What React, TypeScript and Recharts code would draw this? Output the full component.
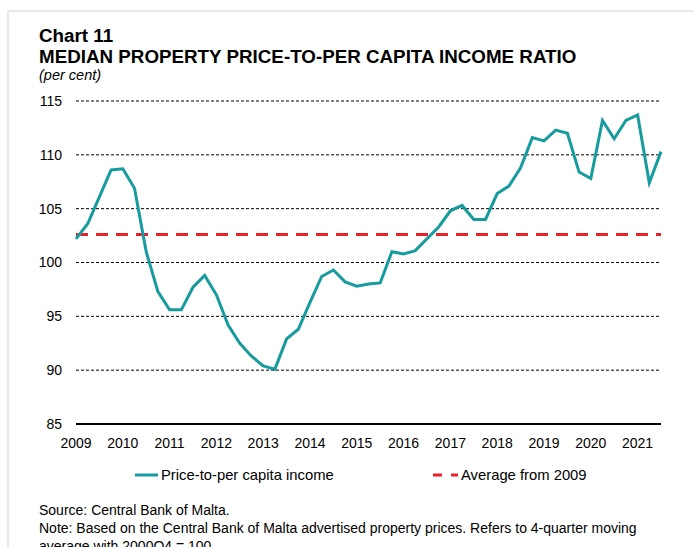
import React from 'react';
import { LineChart, Line, XAxis, YAxis, CartesianGrid, ReferenceLine } from 'recharts';

const years = ['2009', '2010', '2011', '2012', '2013', '2014', '2015', '2016', '2017', '2018', '2019', '2020', '2021'];
const quarterNames = ['Q1', 'Q2', 'Q3', 'Q4'];
const quarters: string[] = years.flatMap((y) => quarterNames.map((q) => y + q)).slice(0, 51);

const priceToIncome = [
  102.2, 103.6, 106.1, 108.6, 108.7, 106.9, 101.0, 97.3, 95.6, 95.6,
  97.7, 98.8, 97.0, 94.2, 92.5, 91.3, 90.4, 90.1, 92.9, 93.8,
  96.3, 98.7, 99.3, 98.2, 97.8, 98.0, 98.1, 101.0, 100.8, 101.1,
  102.2, 103.3, 104.8, 105.3, 104.0, 104.0, 106.4, 107.1, 108.8, 111.6,
  111.3, 112.3, 112.0, 108.4, 107.8, 113.2, 111.5, 113.2, 113.7, 107.4,
  110.3,
];
const averageFrom2009 = 102.6;
const yTicks = [85, 90, 95, 100, 105, 110, 115];
const xTicks = years.map((y) => y + 'Q1');

const data = quarters.map((q, i) => ({ q, v: priceToIncome[i] }));

const FONT = '"Liberation Sans", Arial, Helvetica, sans-serif';
const TEAL = '#169c9e';
const RED = '#e8212b';

export default function App() {
  return (
    <div style={{ position: 'relative', width: 694, height: 547, overflow: 'hidden', background: '#fff', fontFamily: FONT }}>
      <style>{`body{margin:0;overflow:hidden;}`}</style>
      <div style={{ position: 'absolute', left: 7, top: 10, width: 900, height: 900, borderLeft: '2px solid #e9e9e9', borderTop: '2px solid #e9e9e9' }} />
      <div style={{ position: 'absolute', left: 0, top: 0 }}>
        <LineChart width={694} height={547} data={data} margin={{ top: 101, right: 33, bottom: 93, left: 16 }}>
          <CartesianGrid vertical={false} stroke="#000" strokeDasharray="3 2" strokeWidth={1} />
          <XAxis
            dataKey="q"
            ticks={xTicks}
            interval={0}
            tickFormatter={(v: string) => v.slice(0, 4)}
            axisLine={{ stroke: '#000', strokeWidth: 2 }}
            tickLine={false}
            tickSize={0}
            tickMargin={14}
            height={30}
            padding={{ left: 0, right: 0 }}
            tick={{ fill: '#000', fontSize: 14, fontFamily: FONT }}
          />
          <YAxis
            domain={[85, 115]}
            ticks={yTicks}
            interval={0}
            axisLine={false}
            tickLine={false}
            tickSize={0}
            tickMargin={14}
            width={60}
            tick={{ fill: '#000', fontSize: 14, fontFamily: FONT }}
          />
          <ReferenceLine y={averageFrom2009} stroke={RED} strokeWidth={3} strokeDasharray="12 8" ifOverflow="extendDomain" />
          <Line type="linear" dataKey="v" stroke={TEAL} strokeWidth={3} dot={false} isAnimationActive={false} />
        </LineChart>
      </div>
      <svg width={694} height={547} style={{ position: 'absolute', left: 0, top: 0, pointerEvents: 'none' }}>
        <text x={39} y={42} fontFamily={FONT} fontSize={18.8} fontWeight="bold" fill="#000">Chart 11</text>
        <text x={39} y={63} fontFamily={FONT} fontSize={18.8} fontWeight="bold" fill="#000">MEDIAN PROPERTY PRICE-TO-PER CAPITA INCOME RATIO</text>
        <text x={39} y={79.5} fontFamily={FONT} fontSize={14.5} fontStyle="italic" fill="#000">(per cent)</text>

        <line x1={135} x2={158} y1={475} y2={475} stroke={TEAL} strokeWidth={3} />
        <text x={161} y={480} fontFamily={FONT} fontSize={14.8} fill="#000">Price-to-per capita income</text>
        <line x1={433} x2={442} y1={475} y2={475} stroke={RED} strokeWidth={3} />
        <line x1={451} x2={458} y1={475} y2={475} stroke={RED} strokeWidth={3} />
        <text x={461} y={480} fontFamily={FONT} fontSize={14.8} fill="#000">Average from 2009</text>

        <text x={39} y={515} fontFamily={FONT} fontSize={14} fill="#000">Source: Central Bank of Malta.</text>
        <text x={39} y={533} fontFamily={FONT} fontSize={14} fill="#000">Note: Based on the Central Bank of Malta advertised property prices. Refers to 4-quarter moving</text>
        <text x={39} y={551} fontFamily={FONT} fontSize={14} fill="#000">average with 2000Q4 = 100</text>
      </svg>
    </div>
  );
}
